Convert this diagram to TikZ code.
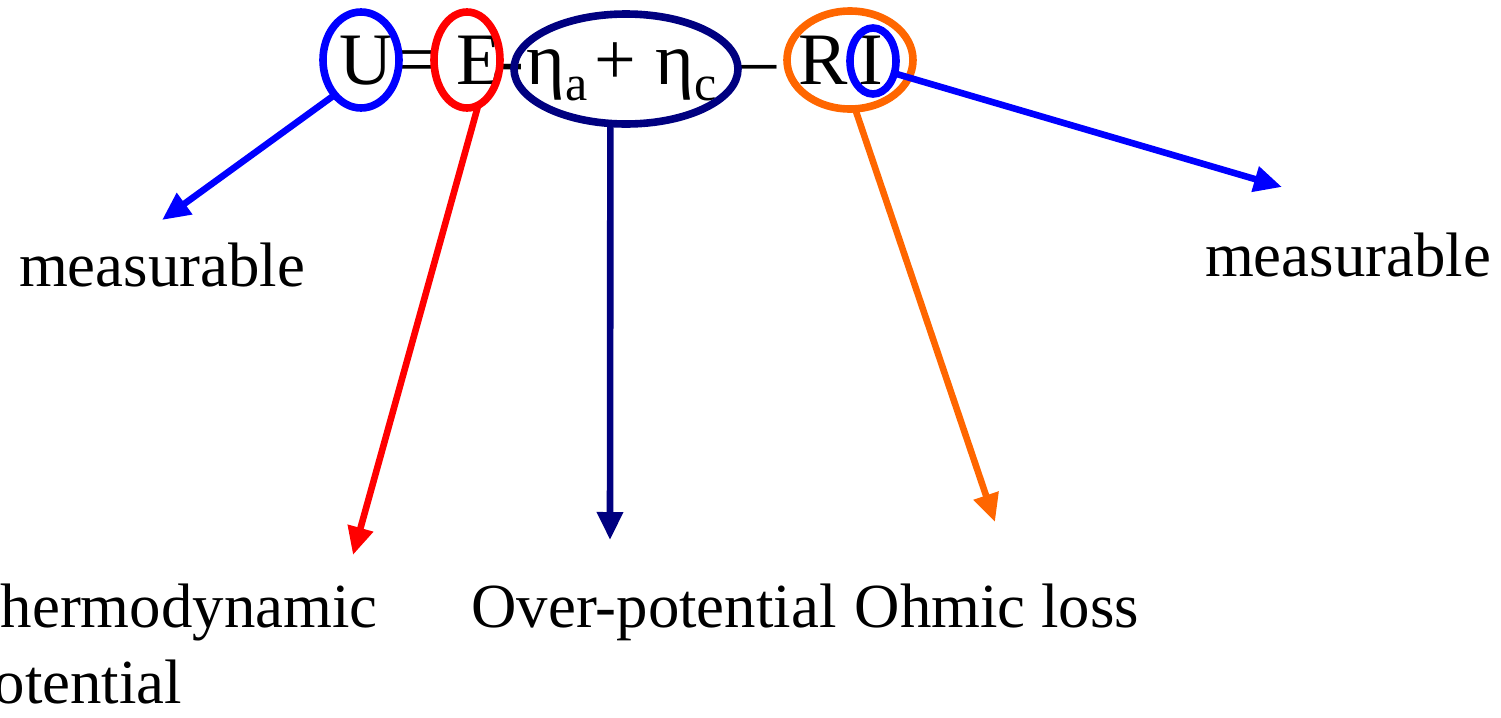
\documentclass[tikz,border=0pt]{standalone}
\usepackage{fontspec}
\setmainfont{Liberation Serif}
\usepackage{xcolor}
\usetikzlibrary{arrows.meta, positioning, shapes.geometric}

\definecolor{ppBlue}{RGB}{0,0,255}
\definecolor{ppRed}{RGB}{255,0,0}
\definecolor{ppNavy}{RGB}{0,0,128}
\definecolor{ppOrange}{RGB}{255,102,0}

\newcommand{\lowsub}[1]{\raisebox{-8pt}{\fontsize{25}{25}\selectfont #1}}

\begin{document}
\begin{tikzpicture}[
  x=0.5pt, y=-0.5pt,
  eq/.style={
    inner sep=0pt,
    font=\fontsize{37}{42}\selectfont
  },
  lbl/.style={
    inner sep=0pt,
    font=\fontsize{31.4}{38}\selectfont
  },
  ring/.style={
    ellipse,
    draw=#1,
    line width=3.8pt,
    inner sep=0pt,
    outer sep=0pt
  },
  arr/.style={
    draw=#1,
    line width=3.3pt,
    -{Triangle[length=14pt,width=12.5pt]}
  }
]
\useasboundingbox (0,0) rectangle (1501,718);

% --- Equation --------------------------------------------------------

\node[eq, anchor=base] (tU) at (366,84) {U};
\node[eq, anchor=base] (tEq) at (418,84) {=};
\node[eq, anchor=base] (tE) at (479,84) {E};
\node[eq, anchor=base] (tMinA) at (512,84) {-};
\node[eq, anchor=base west] (tEtaA) at (526,84) {η\lowsub{a}};
\node[eq, anchor=base] (tPlus) at (615,84) {+};
\node[eq, anchor=base west] (tEtaC) at (655,84) {η\lowsub{c}};
\node[eq, anchor=base] (tMinB) at (758,84) {–};
\node[eq, anchor=base] (tR) at (823,84) {R};
\node[eq, anchor=base] (tI) at (871,84) {I};

% --- Rings -----------------------------------------------------------

\node[ring=ppBlue, minimum width=38pt, minimum height=48pt] (ellU) at (361,60) {};
\node[ring=ppRed, minimum width=33pt, minimum height=48pt] (ellE) at (467,60) {};
\node[ring=ppNavy, minimum width=112pt, minimum height=55pt] (ellEta) at (626,69) {};
\node[ring=ppOrange, minimum width=63pt, minimum height=49pt] (ellR) at (850,60) {};
\node[ring=ppBlue, minimum width=23pt, minimum height=33pt] (ellI) at (873,61) {};

% --- Labels ----------------------------------------------------------

\node[lbl, anchor=base] (measL) at (162,286) {measurable};
\node[lbl, anchor=base] (measR) at (1348,276) {measurable};
\node[lbl, anchor=base west, align=left] (thermo) at (-38,703)
{Thermodynamic\\potential};
\node[lbl, anchor=base] (over) at (654,627) {Over-potential};
\node[lbl, anchor=base] (ohmic) at (997,627) {Ohmic loss};

% --- Arrows ----------------------------------------------------------

\coordinate (tipU) at (162,220);
\coordinate (tipE) at (353,555);
\coordinate (tipEta) at (610,540);
\coordinate (tipR) at (995,522);
\coordinate (tipI) at (1282,187);

\draw[arr=ppBlue] (ellU.233) -- (tipU);
\draw[arr=ppRed] (ellE.-76) -- (tipE);
\draw[arr=ppNavy] (ellEta.-106) -- (tipEta);
\draw[arr=ppOrange] (ellR.-84) -- (tipR);
\draw[arr=ppBlue] (ellI.-30) -- (tipI);

\end{tikzpicture}
\end{document}
